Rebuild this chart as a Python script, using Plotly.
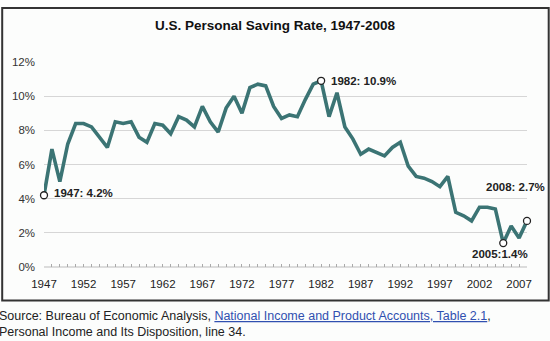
import plotly.graph_objects as go

years = list(range(1947, 2009))
saving_rate = [4.2, 6.9, 5.0, 7.2, 8.4, 8.4, 8.2, 7.6, 7.0, 8.5,
               8.4, 8.5, 7.6, 7.3, 8.4, 8.3, 7.8, 8.8, 8.6, 8.2,
               9.4, 8.5, 7.9, 9.3, 10.0, 9.0, 10.5, 10.7, 10.6, 9.4,
               8.7, 8.9, 8.8, 9.8, 10.7, 10.9, 8.8, 10.2, 8.2, 7.5,
               6.6, 6.9, 6.7, 6.5, 7.0, 7.3, 5.9, 5.3, 5.2, 5.0,
               4.7, 5.3, 3.2, 3.0, 2.7, 3.5, 3.5, 3.4, 1.4, 2.4,
               1.7, 2.7]
highlight_years = [1947, 1982, 2005, 2008]
highlight_values = [4.2, 10.9, 1.4, 2.7]
tick_years = list(range(1947, 2008, 5))
y_ticks = [0, 2, 4, 6, 8, 10, 12]

FONT = "Liberation Sans, Arial, sans-serif"

fig = go.Figure()
fig.add_trace(go.Scatter(x=years, y=saving_rate, mode="lines",
                         line=dict(color="#3b7474", width=3.6),
                         cliponaxis=False, hoverinfo="skip"))
fig.add_trace(go.Scatter(x=highlight_years, y=highlight_values, mode="markers",
                         marker=dict(size=7, color="white",
                                     line=dict(color="#222", width=1.3)),
                         cliponaxis=False, hoverinfo="skip"))

L, R, T, B = 44.3, 527.3, 62.3, 266.7
W, H = R - L, B - T
def px(x):
    return (x - L) / W
def py(y):
    return (B - y) / H

fig.update_layout(
    width=550, height=341,
    margin=dict(l=L, r=550 - R, t=T, b=341 - B, pad=0),
    paper_bgcolor="#fcfdfc", plot_bgcolor="#fcfdfc",
    showlegend=False,
    font=dict(family=FONT, color="#222"),
    xaxis=dict(range=[1947, 2008], tickvals=tick_years,
               ticktext=[str(t) for t in tick_years],
               showgrid=False, zeroline=False,
               showline=False,
               ticks="inside", ticklen=3, tickcolor="#aaa",
               minor=dict(dtick=1, tick0=1947, ticks="inside", ticklen=3, tickcolor="#aaa"),
               tickfont=dict(size=11.5, color="#222"), ticklabelstandoff=8),
    yaxis=dict(range=[0, 12], tickvals=y_ticks,
               ticktext=[f"{v}%" for v in y_ticks],
               showgrid=True, gridcolor="#d6d6d6", gridwidth=1.2,
               zeroline=False, showline=False,
               tickfont=dict(size=11.5, color="#333"), ticklabelstandoff=8),
)

shapes = [
    dict(type="rect", xref="paper", yref="paper",
         x0=px(2.5), x1=px(549), y0=py(300), y1=py(8.5),
         line=dict(color="#333", width=2), fillcolor="rgba(0,0,0,0)", layer="below"),
    dict(type="line", xref="paper", yref="paper", layer="below",
         x0=0, x1=1, y0=0, y1=0, line=dict(color="#bbb", width=1)),
]
fig.update_layout(shapes=shapes)

ann = [
    dict(text="<b>U.S. Personal Saving Rate, 1947-2008</b>", xref="paper", yref="paper",
         x=px(276), y=py(26), xanchor="center", yanchor="middle", showarrow=False,
         font=dict(size=13.5, color="#111")),
    dict(text="<b>1947: 4.2%</b>", xref="paper", yref="paper",
         x=px(52.5), y=py(193), xanchor="left", yanchor="middle", showarrow=False,
         font=dict(size=11.5, color="#222")),
    dict(text="<b>1982: 10.9%</b>", xref="paper", yref="paper",
         x=px(329), y=py(81), xanchor="left", yanchor="middle", showarrow=False,
         font=dict(size=11.5, color="#222")),
    dict(text="<b>2008: 2.7%</b>", xref="paper", yref="paper",
         x=px(547.5), y=py(187), xanchor="right", yanchor="middle", showarrow=False,
         font=dict(size=11.5, color="#222")),
    dict(text="<b>2005:1.4%</b>", xref="paper", yref="paper",
         x=px(500.5), y=py(254), xanchor="center", yanchor="middle", showarrow=False,
         font=dict(size=11.5, color="#222")),
    dict(text="Source: Bureau of Economic Analysis, "
              "<a href='https://www.bea.gov'><span style='color:#3050b0'><u>National Income and Product Accounts, Table 2.1</u></span></a>,"
              "<br>Personal Income and Its Disposition, line 34.",
         xref="paper", yref="paper", x=px(-2.5), y=py(307), xanchor="left", yanchor="top",
         align="left", showarrow=False,
         font=dict(size=12.5, color="#222")),
]
fig.update_layout(annotations=ann)

fig.write_html("out.html")
